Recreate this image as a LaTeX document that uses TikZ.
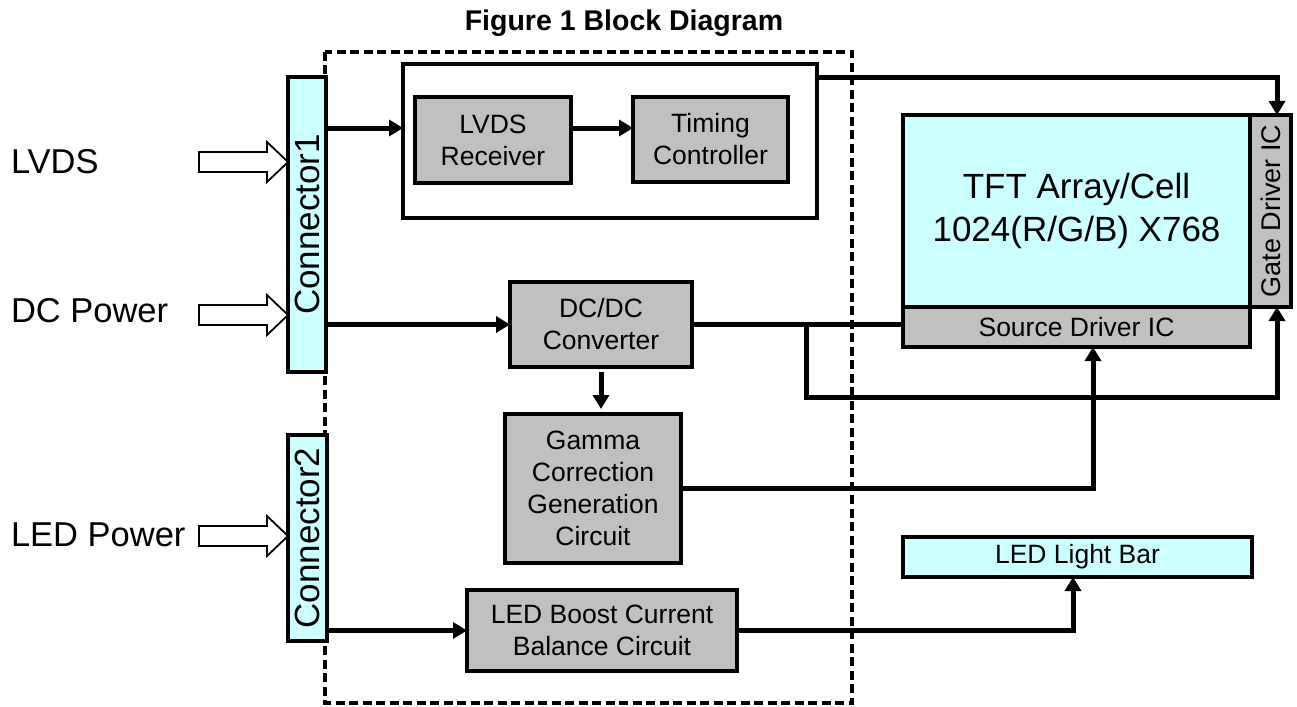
\documentclass[tikz,border=0pt]{standalone}
\usepackage{fontspec}
\setmainfont{Liberation Sans}
\usetikzlibrary{arrows.meta,calc}
\definecolor{panelcyan}{HTML}{CCFFFF}
\definecolor{chipgray}{HTML}{C0C0C0}
\tikzset{
  feed/.pic={
    \draw[line width=1.8pt, fill=white, line join=miter]
      (0,0) -- (-21,-20) -- (-21,-10) -- (-89,-10) -- (-89,10) -- (-21,10) -- (-21,20) -- cycle;
  }
}
\begin{document}
\begin{tikzpicture}[x=1pt, y=-1pt,
  every node/.style={inner sep=0pt, outer sep=0pt},
  graybox/.style={draw, line width=4pt, fill=chipgray, align=center,
    font=\fontsize{26.5}{32}\selectfont},
  cyanbox/.style={draw, line width=4pt, fill=panelcyan, align=center,
    font=\fontsize{26.5}{32}\selectfont},
  plainbox/.style={draw, line width=4pt, fill=white},
  frame/.style={line width=3.2pt, dash pattern=on 9pt off 4.5pt},
  biglabel/.style={font=\fontsize{34.5}{40}\selectfont, anchor=base west},
  conlabel/.style={font=\fontsize{35}{40}\selectfont},
  wire/.style={line width=5pt},
  link/.style={line width=5pt, -{Triangle[length=14pt,width=16pt]}},
  headline/.style={font=\bfseries\fontsize{28.5}{32}\selectfont}
]
\useasboundingbox (0,0) rectangle (1297,706);

% heading
\node[headline] (title) at (624,23) {Figure 1 Block Diagram};

% module outline
\draw[frame] (325,52) rectangle (852,703);

% connectors
\node[cyanbox, conlabel, minimum width=38pt, minimum height=295pt] (conn1) at (307,224.5) {\rotatebox{90}{Connector1}};
\node[cyanbox, conlabel, minimum width=39pt, minimum height=206pt] (conn2) at (307.5,538) {\rotatebox{90}{Connector2}};

% input labels and feed arrows
\node[biglabel] (lvds) at (11,173) {LVDS};
\node[biglabel] (dcp) at (11,322.7) {DC Power};
\node[biglabel] (ledp) at (11,546.7) {LED Power};
\pic at (conn1.west |- 0,162) {feed};
\pic at (conn1.west |- 0,315) {feed};
\pic at (conn2.west |- 0,536) {feed};

% signal path
\node[plainbox, minimum width=414pt, minimum height=154pt] (logic) at (610,141) {};
\node[graybox, minimum width=156pt, minimum height=86pt] (rx) at (493,140) {LVDS\\Receiver};
\node[graybox, minimum width=155pt, minimum height=85pt] (tc) at (710.5,139.5) {Timing\\Controller};

% panel
\node[cyanbox, font=\fontsize{35}{43}\selectfont, minimum width=347pt, minimum height=192pt] (tft) at (1076.5,211) {TFT Array/Cell\\1024(R/G/B) X768};
\node[graybox, font=\fontsize{27}{32}\selectfont, minimum width=41pt, minimum height=192pt] (gate) at (1270.5,211) {\rotatebox{90}{Gate Driver IC}};
\node[graybox, minimum width=347pt, minimum height=40pt] (src) at (1076.5,327) {Source Driver IC};

% power path
\node[graybox, minimum width=182pt, minimum height=85pt] (dcdc) at (601,324.5) {DC/DC\\Converter};
\node[graybox, minimum width=176pt, minimum height=149pt] (gamma) at (593,488.5) {Gamma\\Correction\\Generation\\Circuit};
\node[graybox, minimum width=270pt, minimum height=81pt] (boost) at (602,630.5) {LED Boost Current\\Balance Circuit};
\node[cyanbox, minimum width=349pt, minimum height=40pt] (bar) at (1077.5,557) {LED Light Bar};

% helper points on the wires
\path (rx.west) ++(0,-12) coordinate (rxin);
\path (logic.north east) ++(0,14) coordinate (topbus);
\path (gate.north) ++(6.5,0) coordinate (gatetop);
\path (gate.south) ++(6.5,0) coordinate (gatebot);
\path (dcdc.east) ++(114,0) coordinate (split);
\path (split) ++(0,72.5) coordinate (lowbus);
\path (src.south) ++(16.5,0) coordinate (srcin);
\path (bar.south) ++(-4.5,0) coordinate (barin);

% wiring
\draw[link] (conn1.east |- rxin) -- (logic.west |- rxin);
\draw[link] (rxin -| rx.east) -- (rxin -| tc.west);
\draw[link] (topbus) -| (gatetop);
\draw[link] (conn1.east |- dcdc.west) -- (dcdc.west);
\draw[wire] (dcdc.east) -- (dcdc.east -| src.west);
\draw[link] (split) -- (lowbus) -| (gatebot);
\draw[link, shorten <=5pt, shorten >=5pt] (dcdc.south) -- (dcdc.south |- gamma.north);
\draw[link] (gamma.east) -| (srcin);
\draw[link] (conn2.east |- boost.west) -- (boost.west);
\draw[link] (boost.east) -| (barin);
\end{tikzpicture}
\end{document}
